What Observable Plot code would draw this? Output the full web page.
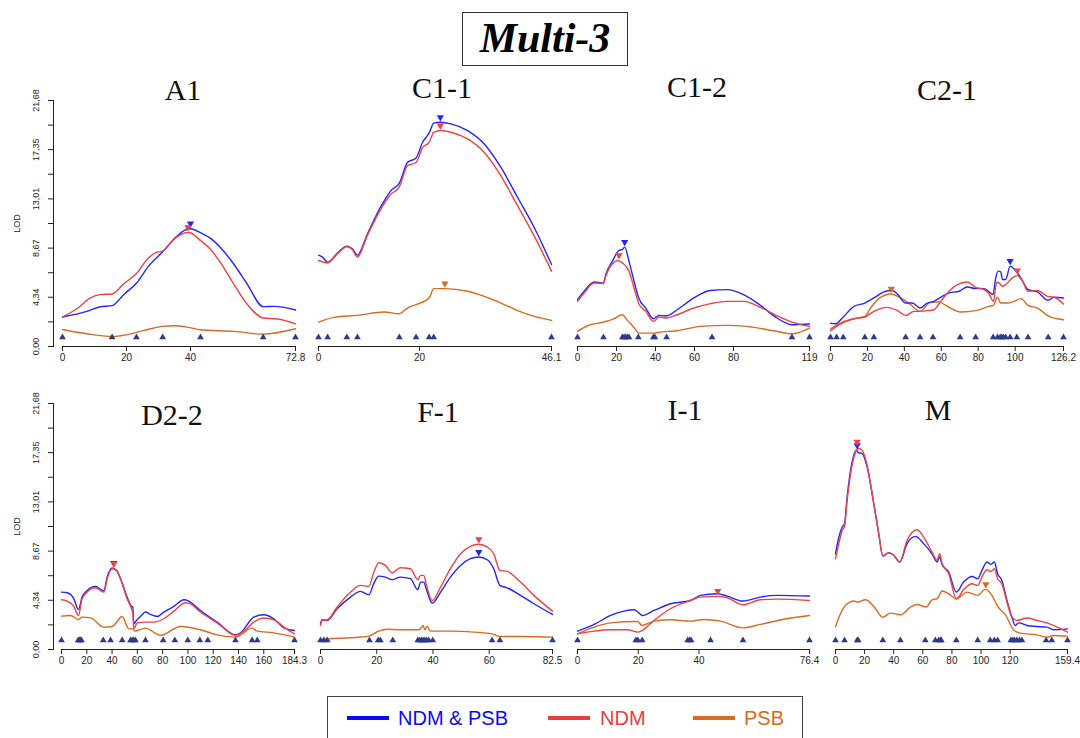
<!DOCTYPE html>
<html>
<head>
<meta charset="utf-8">
<script src="https://cdn.jsdelivr.net/npm/d3@7"></script>
<script src="https://cdn.jsdelivr.net/npm/@observablehq/plot@0.6"></script>
<style>
  html, body { margin: 0; padding: 0; background: #fff; }
  #root { position: relative; width: 1080px; height: 738px; overflow: hidden; background: #fff; }
  .ptitle { position: absolute; font-family: "Liberation Serif", "Times New Roman", serif; font-size: 30px; line-height: 30px; color: #111; white-space: nowrap; transform: translateX(-50%); }
  #mainbox { position: absolute; left: 462px; top: 12px; width: 164px; height: 52px; border: 1.5px solid #333; }
  #maintitle { position: absolute; left: 0; right: 0; top: 4px; text-align: center; font-family: "Liberation Serif", "Times New Roman", serif; font-weight: bold; font-style: italic; font-size: 42px; line-height: 42px; color: #000; }
  #legend { position: absolute; left: 327px; top: 696px; width: 474px; height: 60px; border: 1.5px solid #444; }
  .sw { position: absolute; height: 4px; width: 42px; }
  .lt { position: absolute; font-family: "Liberation Sans", Arial, sans-serif; font-size: 20px; line-height: 20px; white-space: nowrap; }
</style>
</head>
<body>
<div id="root"></div>
<script>
// ---------------- DATA ----------------
const seriesNames = ["NDM & PSB", "NDM", "PSB"];
const lodTicks = [0, 2.17, 4.34, 6.5, 8.67, 10.84, 13.01, 15.18, 17.35, 19.51, 21.68];
const lodLabelValues = [0, 4.34, 8.67, 13.01, 17.35, 21.68];
const lodLabelTexts = ["0,00", "4,34", "8,67", "13,01", "17,35", "21,68"];
const lodMax = 21.68;
const markerLod = 0.8;

const panelNames = ["A1", "C1-1", "C1-2", "C2-1", "D2-2", "F-1", "I-1", "M"];
const panelLengths = [72.8, 46.1, 119, 126.2, 184.3, 82.5, 76.4, 159.4];

const A1_ticks = [0, 20, 40, 72.8];
const A1_ndmPsb = [[0,2.6],[7.6,3.1],[11.8,3.5],[15.5,3.6],[19.1,4.57],[23.1,5.58],[26.9,7.08],[31.3,8.35],[35.8,9.73],[38.4,10.27],[40,10.38],[43.1,10.03],[46.3,9.53],[49.4,8.7],[53.6,7.23],[57.8,5.46],[62.7,3.51],[66.1,3.54],[69.3,3.45],[72.8,3.22]];
const A1_ndm = [[0,2.6],[4.5,3.33],[8.7,4.28],[11.8,4.57],[15.5,4.63],[19.1,5.52],[23.1,6.43],[26.9,7.82],[29.6,8.32],[31.3,8.41],[34.8,9.44],[38.4,10.03],[39.5,10.05],[43.1,9.35],[46.3,8.55],[49.4,7.37],[53.6,5.46],[57.8,3.69],[62.7,2.51],[67.2,2.42],[72.8,2.0]];
const A1_psb = [[0,1.5],[7.6,1.12],[15.5,0.88],[23.1,1.24],[27.5,1.56],[31.3,1.77],[34.8,1.83],[39,1.71],[43.1,1.47],[53.6,1.33],[62.7,1.09],[72.8,1.56]];
const A1_markers = [0, 15.5, 23.1, 31.3, 43.1, 62.7, 72.8];
const A1_peaks = [{s: 0, x: 40, lod: 10.38}, {s: 1, x: 39.2, lod: 10.05}];

const C11_ticks = [0, 20, 46.1];
const C11_ndmPsb = [[0,8.05],[0.8,7.88],[1.8,7.43],[3.8,8.26],[5.6,8.85],[6.7,8.61],[7.7,8.05],[9.7,9.94],[12.3,12.3],[14.3,13.72],[16.0,14.4],[17.6,16.22],[19.3,16.61],[20.6,18.0],[21.9,18.82],[22.8,19.68],[24.1,19.76],[26.2,19.62],[29.5,19.03],[32.8,17.85],[36.1,15.78],[39.4,13.13],[42.7,10.47],[46.1,7.23]];
const C11_ndm = [[0,7.58],[1.8,7.37],[3.8,8.2],[5.6,8.79],[6.7,8.55],[7.7,7.88],[9.7,9.82],[12.3,12.09],[14.3,13.42],[16.0,14.07],[17.6,15.93],[19.3,16.22],[20.6,17.55],[21.9,18.0],[22.8,18.88],[24.2,19.03],[26.2,18.88],[29.5,18.29],[32.8,17.1],[36.1,15.04],[39.4,12.39],[42.7,9.73],[46.1,6.64]];
const C11_psb = [[0,2.15],[3.1,2.57],[7.7,2.74],[13.0,3.04],[16.0,2.89],[17.6,3.39],[19.3,3.69],[21.9,4.28],[22.8,5.1],[24.9,5.1],[29.5,4.87],[32.8,4.42],[36.1,3.83],[39.4,3.16],[42.7,2.65],[46.1,2.3]];
const C11_markers = [0, 1.8, 5.6, 7.7, 16.0, 19.3, 21.9, 22.8, 46.1];
const C11_peaks = [{s: 0, x: 24.1, lod: 19.76}, {s: 1, x: 24.1, lod: 19.03}, {s: 2, x: 25.0, lod: 5.1}];

const C12_ticks = [0, 20, 40, 60, 80, 119];
const C12_ndmPsb = [[0,4.13],[3.4,4.87],[8.5,5.69],[13.3,5.6],[14.5,6.34],[17.9,7.52],[21.3,8.47],[23.0,8.55],[24.2,8.76],[26.4,7.52],[29.0,5.75],[31.5,4.22],[35.0,3.39],[38.9,2.45],[41.8,2.74],[45.7,2.71],[51.1,3.24],[59.7,4.28],[68.2,4.93],[76.7,5.01],[85.2,4.57],[93.8,3.63],[102.3,2.51],[110.0,1.92],[119,1.98]];
const C12_ndm = [[0,3.98],[3.4,4.72],[8.5,5.6],[13.3,5.55],[14.5,6.19],[17.9,7.29],[20.5,7.58],[23.0,7.37],[26.4,6.64],[29.0,5.16],[31.5,3.75],[35.0,3.1],[38.9,2.21],[41.8,2.6],[45.7,2.51],[51.1,2.8],[59.7,3.39],[68.2,3.78],[76.7,3.98],[85.2,3.98],[93.8,3.45],[102.3,2.71],[110.0,2.15],[119,1.77]];
const C12_psb = [[0,1.33],[5.1,1.83],[13.3,2.15],[18.8,2.45],[23.0,2.8],[25.6,2.3],[29.0,1.68],[31.5,1.18],[38.9,1.18],[42.6,1.27],[51.1,1.39],[63.1,1.77],[76.7,1.86],[86.9,1.77],[100.6,1.39],[110.0,1.12],[119,1.62]];
const C12_markers = [0, 13.3, 23.0, 23.9, 24.7, 25.6, 26.4, 31.2, 38.9, 39.7, 45.7, 69.0, 110.0, 119];
const C12_peaks = [{s: 0, x: 24.2, lod: 8.76}, {s: 1, x: 21.3, lod: 7.6}];

const C21_ticks = [0, 20, 40, 60, 80, 100, 126.2];
const C21_ndmPsb = [[0,2.06],[2.7,2.0],[7.2,2.65],[12.7,3.54],[18.6,3.83],[23.5,4.28],[28.9,4.81],[33.4,4.93],[36.2,4.63],[40.7,3.83],[44.3,3.83],[48.5,3.39],[52.4,3.83],[56.0,3.98],[59.7,4.34],[64.2,4.72],[69.6,4.87],[74.1,5.25],[78.6,5.1],[83.2,5.1],[85.9,4.81],[88.0,4.57],[89.5,6.05],[90.8,6.64],[92.2,6.58],[93.1,5.9],[94.9,5.9],[97.3,7.08],[99.4,6.84],[103.1,6.05],[107.0,5.01],[112.1,4.81],[117.9,4.07],[121.1,4.34],[126.2,4.28]];
const C21_ndm = [[0,1.39],[5.4,1.98],[12.7,2.45],[18.6,2.6],[23.5,3.1],[30.7,3.45],[36.2,3.16],[40.7,2.74],[45.2,3.1],[48.5,3.1],[52.4,3.16],[56.0,3.24],[59.7,3.98],[64.2,4.87],[68.7,5.46],[74.1,5.69],[78.6,5.22],[83.2,5.01],[85.9,4.63],[88.2,3.98],[90.0,5.66],[91.3,5.6],[93.1,5.31],[95.8,5.6],[98.5,6.05],[101.2,6.25],[104.0,5.75],[107.0,4.87],[112.1,4.93],[117.5,4.42],[121.1,4.34],[126.2,3.75]];
const C21_psb = [[0,1.56],[7.2,2.21],[12.7,2.45],[18.6,2.65],[21.7,3.39],[26.2,4.22],[32.5,4.63],[38.0,4.28],[43.4,3.69],[48.5,3.1],[54.2,3.89],[58.8,3.92],[63.3,3.54],[70.5,3.04],[78.6,3.16],[85.9,3.54],[88.2,3.63],[90.4,4.34],[92.2,3.83],[95.8,3.83],[99.4,3.98],[103.1,4.22],[107.0,3.63],[112.1,3.39],[118.4,2.65],[126.2,2.36]];
const C21_markers = [0, 3.3, 6.9, 18.6, 23.5, 40.7, 48.5, 55.5, 70.2, 78.6, 88.1, 90.4, 91.9, 92.8, 93.7, 94.9, 97.3, 100.9, 107.0, 117.9, 126.2];
const C21_peaks = [{s: 0, x: 97.3, lod: 7.08}, {s: 1, x: 101.2, lod: 6.25}, {s: 2, x: 32.9, lod: 4.63}];

const D22_ticks = [0, 20, 40, 60, 80, 100, 120, 140, 160, 184.3];
const D22_ndmPsb = [[0,5.06],[4.5,5.0],[9.8,4.47],[13.4,3.53],[16.3,4.62],[20.3,5.21],[26.9,5.56],[33.5,5.15],[36.1,6.38],[40.1,7.18],[43.5,6.97],[48.0,5.85],[51.9,4.62],[55.4,3.8],[56.4,3.74],[57.2,2.27],[59.3,2.56],[62.5,2.91],[66.4,3.3],[70.4,3.09],[75.7,2.91],[80.9,3.3],[88.9,3.8],[96.8,4.38],[100.7,4.27],[109.9,3.44],[123.1,2.41],[137.6,1.29],[141.6,1.47],[152.1,2.85],[160.0,3.06],[167.9,2.71],[175.9,1.91],[184.3,1.68]];
const D22_ndm = [[0,4.38],[4.5,4.27],[9.8,3.8],[13.4,3.0],[16.3,4.47],[20.3,5.06],[26.9,5.44],[33.5,5.06],[36.1,6.24],[40.1,7.12],[43.5,6.97],[48.0,5.8],[51.9,4.47],[55.4,3.59],[56.4,3.21],[57.2,1.82],[59.9,2.35],[66.4,2.41],[73.0,2.41],[80.9,2.71],[88.9,3.38],[98.1,4.12],[102.0,4.03],[109.9,3.3],[123.1,2.35],[137.6,1.24],[145.5,1.74],[152.1,2.41],[160.0,2.77],[167.9,2.62],[175.9,1.97],[184.3,1.38]];
const D22_psb = [[0,2.94],[7.1,3.0],[13.4,2.65],[16.3,2.85],[22.9,2.79],[33.5,1.97],[40.1,2.03],[48.0,2.91],[53.3,1.82],[56.4,1.82],[57.7,1.62],[66.4,1.88],[78.3,1.24],[94.1,2.03],[109.9,1.74],[123.1,1.29],[137.6,1.09],[150.8,1.88],[154.8,1.62],[167.9,1.47],[184.3,1.09]];
const D22_markers = [0, 13.2, 14.2, 15.0, 15.8, 33.0, 38.8, 48.0, 54.6, 55.9, 57.2, 58.5, 66.4, 80.4, 89.6, 99.9, 109.4, 115.7, 137.6, 150.8, 154.8, 184.3];
const D22_peaks = [{s: 0, x: 41.4, lod: 7.18}, {s: 1, x: 41.4, lod: 7.12}];

const F1_ticks = [0, 20, 40, 60, 82.5];
const F1_ndmPsb = [[0,2.27],[0.6,2.62],[2.4,2.56],[5.9,3.59],[10.7,4.62],[14.2,5.12],[17.2,4.82],[19.0,5.85],[20.7,6.47],[23.1,6.38],[25.5,6.15],[28.4,6.38],[32.0,6.24],[34.6,5.27],[35.6,5.94],[36.7,5.94],[37.7,5.27],[39.7,4.09],[42.7,5.06],[46.2,6.38],[49.8,7.41],[53.3,8.0],[56.3,8.15],[59.3,7.91],[61.6,7.12],[63.8,5.65],[66.4,5.44],[71.1,4.77],[75.9,4.03],[82.5,3.09]];
const F1_ndm = [[0,2.12],[0.6,2.56],[2.4,2.62],[5.9,3.74],[10.7,5.06],[14.2,5.65],[17.2,5.56],[19.0,6.83],[20.7,7.65],[23.1,7.41],[25.5,6.74],[28.4,7.21],[32.0,7.12],[34.6,6.15],[35.6,6.53],[36.7,6.53],[37.7,5.65],[39.7,4.32],[42.7,5.5],[46.2,7.12],[49.8,8.44],[53.3,9.09],[56.3,9.27],[59.3,9.03],[61.6,8.44],[63.8,6.97],[66.4,6.88],[71.1,5.94],[75.9,4.77],[82.5,3.38]];
const F1_psb = [[0,0.85],[2.4,0.94],[10.7,1.03],[17.2,1.18],[20.7,1.62],[23.7,1.79],[28.4,1.74],[35.0,1.74],[35.8,1.91],[36.5,2.12],[37.1,1.74],[37.9,2.06],[39.1,1.62],[46.2,1.62],[54.5,1.53],[61.0,1.38],[63.8,1.15],[71.1,1.15],[82.5,1.09]];
const F1_markers = [0, 1.2, 2.4, 17.4, 20.5, 21.3, 25.7, 34.6, 35.3, 35.9, 36.5, 37.1, 37.7, 38.5, 39.9, 61.0, 63.8, 82.5];
const F1_peaks = [{s: 0, x: 56.3, lod: 8.15}, {s: 1, x: 56.3, lod: 9.27}];

const I1_ticks = [0, 20, 40, 76.4];
const I1_ndmPsb = [[0,1.62],[5.5,2.21],[10.9,3.0],[15.3,3.38],[18.8,3.5],[19.9,3.3],[21.3,3.0],[25.2,3.44],[30.6,4.03],[37.2,4.32],[40.5,4.77],[46.0,4.91],[49.3,4.71],[54.5,4.27],[60.2,4.62],[65.7,4.77],[76.4,4.71]];
const I1_ndm = [[0,1.38],[5.5,1.62],[10.9,1.74],[16.4,1.74],[19.9,1.53],[21.3,1.68],[25.2,2.56],[30.6,3.59],[37.2,4.32],[40.5,4.62],[46.0,4.68],[49.3,4.56],[54.5,3.94],[60.2,4.38],[65.7,4.44],[76.4,4.32]];
const I1_psb = [[0,1.38],[5.5,1.97],[10.9,2.35],[19.7,2.47],[21.3,2.12],[25.2,2.5],[30.6,2.62],[37.2,2.5],[41.6,2.65],[47.1,2.5],[54.5,1.91],[60.2,2.21],[68.9,2.71],[76.4,3.0]];
const I1_markers = [0, 19.2, 19.9, 21.3, 36.3, 36.9, 37.4, 43.8, 54.5, 76.4];
const I1_peaks = [{s: 1, x: 46.2, lod: 4.7}];

const M_ticks = [0, 20, 40, 60, 80, 100, 120, 159.4];
const M_ndmPsb = [[0,8.44],[2.3,9.91],[4.6,10.8],[6.2,11.09],[8.0,13.45],[11.4,16.53],[14.4,17.56],[15.6,17.36],[18.3,17.27],[21.7,16.09],[26.3,12.86],[29.7,10.21],[32.5,8.24],[36.6,8.53],[40.0,8.3],[44.1,7.71],[49.2,9.33],[54.9,9.97],[60.6,9.33],[66.3,8.44],[69.8,7.71],[71.6,8.15],[73.2,7.5],[77.8,6.83],[83.0,5.06],[88.0,5.94],[93.8,6.44],[97.7,6.24],[100.6,6.97],[104.1,7.71],[106.8,7.5],[109.1,7.71],[111.4,6.68],[114.3,6.09],[117.8,4.32],[121.2,2.85],[123.5,2.12],[125.8,2.35],[131.5,2.12],[138.4,2.03],[145.2,1.97],[149.8,1.74],[159.4,1.82]];
const M_ndm = [[0,8.0],[2.3,9.33],[4.6,10.5],[6.2,10.86],[8.0,13.15],[11.4,16.24],[14.4,17.56],[16.0,17.71],[18.3,17.56],[21.7,16.24],[26.3,12.86],[29.7,10.21],[32.5,8.24],[36.6,8.53],[40.0,8.3],[44.1,7.71],[49.2,9.62],[56.0,10.56],[60.6,9.91],[66.3,8.59],[69.8,7.86],[71.6,8.44],[73.2,7.56],[77.8,6.68],[83.0,4.47],[88.0,5.27],[93.8,5.8],[97.7,5.65],[100.6,6.38],[104.1,7.03],[106.8,6.88],[109.1,7.12],[111.4,6.24],[114.3,5.8],[117.8,4.18],[121.2,2.85],[124.6,2.56],[131.5,2.77],[138.4,2.56],[145.2,2.35],[149.8,2.12],[159.4,1.53]];
const M_psb = [[0,2.03],[3.4,3.15],[8.0,4.03],[12.6,4.27],[15.3,4.18],[20.6,4.38],[26.3,3.8],[32.5,2.85],[37.7,3.21],[44.6,3.06],[51.5,3.74],[56.0,3.97],[62.4,3.74],[66.3,4.38],[69.8,4.47],[73.2,5.15],[77.8,4.91],[83.0,4.47],[90.3,5.06],[97.7,4.77],[102.9,5.3],[107.5,4.77],[111.4,3.8],[116.6,3.09],[122.3,1.74],[126.9,1.44],[138.4,1.29],[145.2,1.09],[149.8,1.24],[159.4,1.18]];
const M_markers = [0, 6.2, 14.9, 15.6, 32.5, 44.6, 61.7, 68.6, 70.9, 72.1, 72.7, 83.0, 97.7, 106.3, 109.1, 111.4, 120.5, 121.9, 123.0, 124.6, 126.5, 128.1, 144.7, 148.6, 159.4];
const M_peaks = [{s: 0, x: 14.9, lod: 17.56}, {s: 1, x: 14.9, lod: 17.85}, {s: 2, x: 103.3, lod: 5.3}];

// ---------------- TABLE ----------------
const panels = [
  {ticks: A1_ticks, series: [A1_ndmPsb, A1_ndm, A1_psb], markers: A1_markers, peaks: A1_peaks},
  {ticks: C11_ticks, series: [C11_ndmPsb, C11_ndm, C11_psb], markers: C11_markers, peaks: C11_peaks},
  {ticks: C12_ticks, series: [C12_ndmPsb, C12_ndm, C12_psb], markers: C12_markers, peaks: C12_peaks},
  {ticks: C21_ticks, series: [C21_ndmPsb, C21_ndm, C21_psb], markers: C21_markers, peaks: C21_peaks},
  {ticks: D22_ticks, series: [D22_ndmPsb, D22_ndm, D22_psb], markers: D22_markers, peaks: D22_peaks},
  {ticks: F1_ticks, series: [F1_ndmPsb, F1_ndm, F1_psb], markers: F1_markers, peaks: F1_peaks},
  {ticks: I1_ticks, series: [I1_ndmPsb, I1_ndm, I1_psb], markers: I1_markers, peaks: I1_peaks},
  {ticks: M_ticks, series: [M_ndmPsb, M_ndm, M_psb], markers: M_markers, peaks: M_peaks}
].map((p, i) => ({...p, name: panelNames[i], max: panelLengths[i]}));

// ---------------- LAYOUT / STYLE ----------------
const colors = ["#2424ff", "#ef4242", "#d86a22"];
const legendColors = ["#0a0aee", "#ee3c3c", "#d86a22"];
const markerFill = "#2d3a88";
const rowTop = [90, 393];
const layout = [
  {row: 0, x0: 62, x1: 295, first: true, tx: 183, tb: 100},
  {row: 0, x0: 318, x1: 551, first: false, tx: 442, tb: 98},
  {row: 0, x0: 577, x1: 809, first: false, tx: 697, tb: 97},
  {row: 0, x0: 830, x1: 1063, first: false, tx: 947, tb: 100},
  {row: 1, x0: 61, x1: 294, first: true, tx: 172, tb: 425},
  {row: 1, x0: 320, x1: 552, first: false, tx: 438, tb: 422},
  {row: 1, x0: 577, x1: 809, first: false, tx: 685, tb: 420},
  {row: 1, x0: 835, x1: 1067, first: false, tx: 938, tb: 420}
];
const axisX = 53;

const root = document.getElementById("root");

panels.forEach((p, i) => {
  const L = layout[i];
  const svgLeft = L.first ? 0 : L.x0 - 20;
  const marginLeft = L.first ? axisX : 20;
  const inset = L.first ? L.x0 - axisX : 0;
  const marginRight = 16;
  const width = (L.x1 - svgLeft) + marginRight;
  const marks = [];
  if (L.first) {
    marks.push(Plot.frame({anchor: "left", stroke: "#222", strokeWidth: 1}));
    marks.push(Plot.axisY({ticks: lodTicks, tickSize: 5, tickFormat: () => "", stroke: "#222", label: null}));
    marks.push(Plot.text(lodLabelValues, {y: d => d, text: (d, j) => lodLabelTexts[j], frameAnchor: "left", dx: -17, rotate: -90, fontSize: 9, fill: "#222", textAnchor: "middle"}));
    marks.push(Plot.text(["LOD"], {text: d => d, frameAnchor: "left", dx: -36, rotate: -90, fontSize: 9, fill: "#222", textAnchor: "middle"}));
  }
  marks.push(Plot.ruleY([0], {x1: 0, x2: p.max, stroke: "#222", strokeWidth: 1}));
  marks.push(Plot.axisX({ticks: p.ticks, tickSize: 5, tickPadding: 2, tickFormat: d => String(d), fontSize: 10, fill: "#222", stroke: "#222", label: null}));
  [2, 0, 1].forEach(s => {
    marks.push(Plot.line(p.series[s], {x: d => d[0], y: d => d[1], stroke: colors[s], strokeWidth: 1.4, curve: "monotone-x"}));
  });
  marks.push(Plot.dot(p.markers, {x: d => d, y: () => markerLod, symbol: "triangle", r: 2.5, fill: markerFill, stroke: null}));
  [0, 2, 1].forEach(s => {
    const pk = p.peaks.filter(d => d.s === s);
    if (pk.length) marks.push(Plot.dot(pk, {x: "x", y: "lod", symbol: "triangle", rotate: 180, r: 2.7, fill: colors[s], stroke: null, dy: -5}));
  });
  const svg = Plot.plot({
    width, height: 281,
    marginLeft, marginRight, marginTop: 10, marginBottom: 25,
    x: {domain: [0, p.max], insetLeft: inset},
    y: {domain: [0, lodMax], axis: null},
    style: {fontFamily: "'Liberation Sans', Arial, sans-serif", fontSize: "10px", color: "#222", background: "transparent", overflow: "visible"},
    marks
  });
  svg.style.position = "absolute";
  svg.style.left = svgLeft + "px";
  svg.style.top = rowTop[L.row] + "px";
  root.appendChild(svg);

  const t = document.createElement("div");
  t.className = "ptitle";
  t.textContent = p.name;
  t.style.left = L.tx + "px";
  t.style.top = (L.tb - 25) + "px";
  root.appendChild(t);
});

// main title
const box = document.createElement("div");
box.id = "mainbox";
const mt = document.createElement("div");
mt.id = "maintitle";
mt.textContent = "Multi-3";
box.appendChild(mt);
root.appendChild(box);

// legend
const leg = document.createElement("div");
leg.id = "legend";
root.appendChild(leg);
const legItems = [
  {sw: 347, tx: 398},
  {sw: 548, tx: 600},
  {sw: 693, tx: 744}
];
seriesNames.forEach((n, s) => {
  const sw = document.createElement("div");
  sw.className = "sw";
  sw.style.left = legItems[s].sw + "px";
  sw.style.top = "716px";
  sw.style.background = legendColors[s];
  root.appendChild(sw);
  const tx = document.createElement("div");
  tx.className = "lt";
  tx.textContent = n;
  tx.style.left = legItems[s].tx + "px";
  tx.style.top = "708px";
  tx.style.color = legendColors[s];
  root.appendChild(tx);
});
</script>
</body>
</html>
